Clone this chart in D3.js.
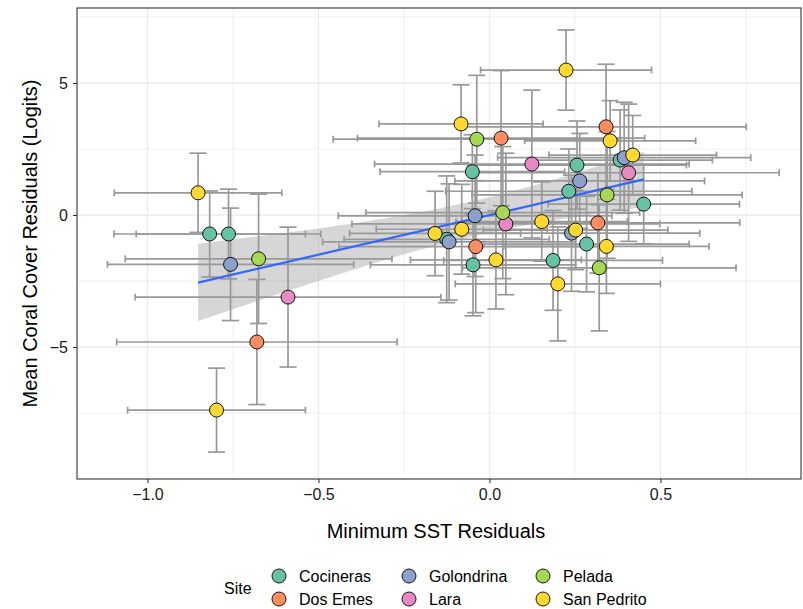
<!DOCTYPE html>
<html>
<head>
<meta charset="utf-8">
<script src="https://cdn.jsdelivr.net/npm/d3@7"></script>
<style>
  body { margin: 0; background: #fff; }
  text { font-family: "Liberation Sans", Arial, Helvetica, sans-serif; }
</style>
</head>
<body>
<script>
// site of each point
var sites = ["Cocineras", "Dos Emes", "Golondrina", "Lara", "Pelada", "San Pedrito"];
var siteColors = ["#66C2A5", "#FC8D62", "#8DA0CB", "#E78AC3", "#A6D854", "#FFD92F"];

// points: site index, x, y, x error, y error
var ptSite = [0,0,0,0,0,0,0,0,0,0,0, 1,1,1,1,1, 2,2,2,2,2,2, 3,3,3,3, 4,4,4,4,4, 5,5,5,5,5,5,5,5,5,5,5,5,5];
var ptX = [-0.818,-0.763,-0.050,0.256,0.232,0.451,0.382,-0.125,-0.048,0.186,0.284,
           -0.680,0.034,0.341,0.317,-0.040,
           -0.757,0.264,0.394,-0.042,0.240,-0.118,
           -0.589,0.124,0.407,0.048,
           -0.675,-0.037,0.344,0.039,0.321,
           -0.852,-0.798,0.224,-0.083,0.353,0.419,0.153,0.252,-0.159,-0.081,0.019,0.200,0.342];
var ptY = [-0.72,-0.72,1.64,1.89,0.90,0.41,2.08,-0.92,-1.89,-1.72,-1.10,
           -4.81,2.91,3.34,-0.30,-1.20,
           -1.87,1.29,2.17,-0.03,-0.69,-1.02,
           -3.11,1.93,1.60,-0.34,
           -1.66,2.87,0.76,0.09,-2.00,
           0.84,-7.39,5.49,3.45,2.81,2.27,-0.25,-0.57,-0.70,-0.54,-1.70,-2.61,-1.19];
var ptXerr = [0.28,0.27,0.27,0.32,0.36,0.28,0.27,0.30,0.30,0.32,0.30,
              0.41,0.42,0.41,0.415,0.40,
              0.36,0.365,0.37,0.40,0.375,0.37,
              0.447,0.46,0.44,0.45,
              0.39,0.42,0.395,0.40,0.40,
              0.245,0.26,0.25,0.24,0.25,0.245,0.25,0.27,0.25,0.25,0.25,0.30,0.30];
var ptYerr = [1.63,1.70,1.40,1.67,1.60,1.50,1.90,2.40,1.93,1.89,1.81,
              2.37,2.56,2.37,1.90,2.50,
              2.13,1.80,2.10,2.30,2.20,2.20,
              2.65,2.80,2.60,2.68,
              2.45,2.42,2.40,2.50,2.39,
              1.50,1.59,1.52,1.48,1.52,1.50,1.50,1.50,1.60,1.70,1.86,2.16,1.78];

// linear fit and its confidence band
var fitX = [-0.852, 0.451];
var fitY = [-2.56, 1.35];
var bandX = [-0.852, -0.6, -0.4, -0.2, 0.0, 0.2, 0.451];
var bandLow = [-4.02, -2.92, -2.08, -1.31, -0.67, -0.18, 0.30];
var bandHigh = [-1.09, -0.68, -0.32, 0.11, 0.67, 1.38, 2.40];

var xTicks = [-1.0, -0.5, 0.0, 0.5];
var xMinor = [-0.75, -0.25, 0.25, 0.75];
var yTicks = [-5, 0, 5];
var yMinor = [-7.5, -2.5, 2.5, 7.5];

var width = 803, height = 609;
var panel = {left: 77, right: 801, top: 8, bottom: 479};

var svg = d3.select("body").append("svg")
    .attr("width", width)
    .attr("height", height);

var x = d3.scaleLinear().domain([-1.206, 0.911]).range([panel.left, panel.right]);
var y = d3.scaleLinear().domain([-10.0, 7.84]).range([panel.bottom, panel.top]);

var data = ptX.map(function(v, i) {
    return {site: ptSite[i], x: v, y: ptY[i], xe: ptXerr[i], ye: ptYerr[i]};
});

// gridlines
var grid = svg.append("g");
grid.selectAll(".vminor").data(xMinor).enter().append("line")
    .attr("x1", d => x(d)).attr("x2", d => x(d))
    .attr("y1", panel.top).attr("y2", panel.bottom)
    .attr("stroke", "#EBEBEB").attr("stroke-width", 0.8);
grid.selectAll(".hminor").data(yMinor).enter().append("line")
    .attr("x1", panel.left).attr("x2", panel.right)
    .attr("y1", d => y(d)).attr("y2", d => y(d))
    .attr("stroke", "#EBEBEB").attr("stroke-width", 0.8);
grid.selectAll(".vmajor").data(xTicks).enter().append("line")
    .attr("x1", d => x(d)).attr("x2", d => x(d))
    .attr("y1", panel.top).attr("y2", panel.bottom)
    .attr("stroke", "#EBEBEB").attr("stroke-width", 1.3);
grid.selectAll(".hmajor").data(yTicks).enter().append("line")
    .attr("x1", panel.left).attr("x2", panel.right)
    .attr("y1", d => y(d)).attr("y2", d => y(d))
    .attr("stroke", "#EBEBEB").attr("stroke-width", 1.3);

// confidence band
var band = bandX.map((v, i) => ({x: v, lo: bandLow[i], hi: bandHigh[i]}));
svg.append("path")
    .datum(band)
    .attr("fill", "#999999")
    .attr("fill-opacity", 0.4)
    .attr("d", d3.area().curve(d3.curveMonotoneX)
        .x(d => x(d.x)).y0(d => y(d.lo)).y1(d => y(d.hi)));

// error bars
var eb = svg.append("g").attr("stroke", "#999999").attr("stroke-width", 1.7).attr("fill", "none");
var capW = 0.025, capH = 0.13;
data.forEach(function(d) {
    // vertical
    eb.append("line").attr("x1", x(d.x)).attr("x2", x(d.x))
        .attr("y1", y(d.y - d.ye)).attr("y2", y(d.y + d.ye));
    [d.y - d.ye, d.y + d.ye].forEach(function(v) {
        eb.append("line").attr("x1", x(d.x - capW)).attr("x2", x(d.x + capW))
            .attr("y1", y(v)).attr("y2", y(v));
    });
    // horizontal
    eb.append("line").attr("x1", x(d.x - d.xe)).attr("x2", x(d.x + d.xe))
        .attr("y1", y(d.y)).attr("y2", y(d.y));
    [d.x - d.xe, d.x + d.xe].forEach(function(v) {
        eb.append("line").attr("x1", x(v)).attr("x2", x(v))
            .attr("y1", y(d.y - capH)).attr("y2", y(d.y + capH));
    });
});

// fitted line
svg.append("line")
    .attr("x1", x(fitX[0])).attr("y1", y(fitY[0]))
    .attr("x2", x(fitX[1])).attr("y2", y(fitY[1]))
    .attr("stroke", "#3366FF").attr("stroke-width", 2.2);

// points
svg.append("g").selectAll("circle")
    .data(data).enter().append("circle")
    .attr("cx", d => x(d.x)).attr("cy", d => y(d.y))
    .attr("r", 7)
    .attr("fill", d => siteColors[d.site])
    .attr("stroke", "#000").attr("stroke-width", 0.9);

// panel border
svg.append("rect")
    .attr("x", panel.left).attr("y", panel.top)
    .attr("width", panel.right - panel.left).attr("height", panel.bottom - panel.top)
    .attr("fill", "none").attr("stroke", "#333333").attr("stroke-width", 1.1);

// axes
var xAxis = svg.append("g")
    .attr("transform", `translate(0,${panel.bottom})`)
    .call(d3.axisBottom(x).tickValues(xTicks).tickFormat(d3.format(".1f")).tickSize(4).tickPadding(6));
var yAxis = svg.append("g")
    .attr("transform", `translate(${panel.left},0)`)
    .call(d3.axisLeft(y).tickValues(yTicks).tickSize(4).tickPadding(5));
[xAxis, yAxis].forEach(function(a) {
    a.select(".domain").remove();
    a.selectAll(".tick line").attr("stroke", "#333333").attr("stroke-width", 1.1);
    a.selectAll(".tick text").attr("fill", "#1a1a1a").style("font-size", "16px");
});

// axis titles
svg.append("text")
    .attr("x", (panel.left + panel.right) / 2 - 3)
    .attr("y", 538)
    .attr("text-anchor", "middle")
    .style("font-size", "20px")
    .attr("fill", "#000")
    .text("Minimum SST Residuals");
svg.append("text")
    .attr("transform", `translate(37,${(panel.top + panel.bottom) / 2}) rotate(-90)`)
    .attr("text-anchor", "middle")
    .style("font-size", "20px")
    .attr("fill", "#000")
    .text("Mean Coral Cover Residuals (Logits)");

// legend
var legend = svg.append("g");
legend.append("text")
    .attr("x", 224).attr("y", 594)
    .style("font-size", "16px")
    .attr("fill", "#000")
    .text("Site");
var colX = [279, 409, 543];
var rowY = [576, 599];
sites.forEach(function(s, i) {
    var cx = colX[Math.floor(i / 2)], cy = rowY[i % 2];
    legend.append("circle")
        .attr("cx", cx).attr("cy", cy).attr("r", 7)
        .attr("fill", siteColors[i]).attr("stroke", "#000").attr("stroke-width", 0.9);
    legend.append("text")
        .attr("x", cx + 20).attr("y", cy + 6)
        .style("font-size", "16px")
        .attr("fill", "#000")
        .text(s);
});
</script>
</body>
</html>
